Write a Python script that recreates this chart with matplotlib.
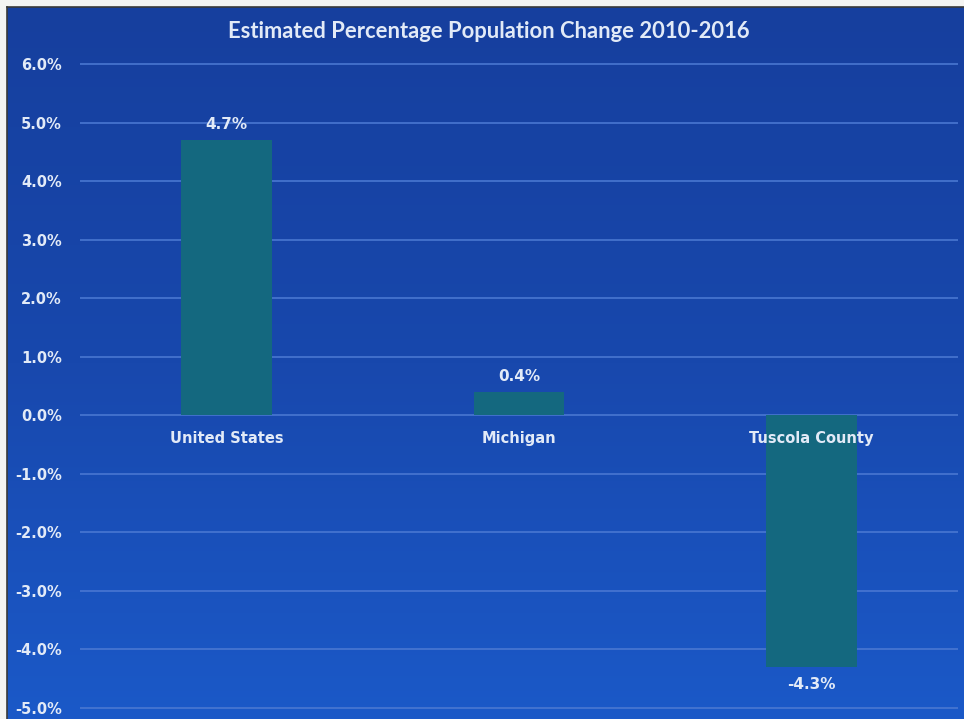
import numpy as np
import matplotlib
matplotlib.use("Agg")
import matplotlib.pyplot as plt
from matplotlib.colors import LinearSegmentedColormap

categories = ["United States", "Michigan", "Tuscola County"]
values = [4.7, 0.4, -4.3]
value_labels = ["4.7%", "0.4%", "-4.3%"]
yticks = [-5, -4, -3, -2, -1, 0, 1, 2, 3, 4, 5, 6]
ytick_labels = [f"{t:.1f}%" for t in yticks]
title = "Estimated Percentage Population Change 2010-2016"

W, H = 964, 719
fig = plt.figure(figsize=(W / 100, H / 100), dpi=100)
fig.patch.set_facecolor("#f4f4f2")

# slide background: blue panel with a gentle vertical gradient
bg = fig.add_axes([7 / W, 0, 1 - 7 / W, 1 - 7 / H])
cmap = LinearSegmentedColormap.from_list("slide", ["#1b59c8", "#1848ad", "#163f9e"])
grad = np.linspace(0, 1, 256).reshape(-1, 1)
bg.imshow(grad, aspect="auto", cmap=cmap, origin="lower", extent=[0, 1, 0, 1])
bg.set_axis_off()
bg.plot([0, 0], [0, 1], color="#3a3a3a", lw=1.2, transform=bg.transAxes, clip_on=False)
bg.plot([0, 1], [1, 1], color="#3a3a3a", lw=1.2, transform=bg.transAxes, clip_on=False)

# chart area
px_per_unit = (708 - 64) / 11
ax_left, ax_right = 80, 958
ax_top_px, ax_bot_px = 30, 719
ymax = 6 + (64 - ax_top_px) / px_per_unit
ymin = -5 - (ax_bot_px - 708) / px_per_unit
ax = fig.add_axes([ax_left / W, 0, (ax_right - ax_left) / W, (H - ax_top_px) / H])
ax.set_facecolor("none")
ax.set_xlim(-0.5, 2.5)
ax.set_ylim(ymin, ymax)

text_color = "#e2eaf7"
grid_color = "#4a78d2"

for t in yticks:
    ax.axhline(t, color=grid_color, lw=1.3, alpha=0.9, zorder=1)

x = np.arange(len(categories))
ax.bar(x, values, width=0.31, color="#14687f", zorder=2)

ax.set_yticks(yticks)
ax.set_yticklabels(ytick_labels)
ax.tick_params(axis="y", length=0, pad=13, labelcolor=text_color)
ax.set_xticks([])
for lbl in ax.get_yticklabels():
    lbl.set_fontfamily("DejaVu Sans")
    lbl.set_fontweight("bold")
    lbl.set_fontsize(10.5)
for sp in ax.spines.values():
    sp.set_visible(False)

# category names sit just below the zero line
for xi, name in zip(x, categories):
    ax.annotate(name, (xi, 0), xytext=(0, -11), textcoords="offset points",
                ha="center", va="top", color=text_color, fontsize=10.5,
                fontweight="bold", family="DejaVu Sans")

# value labels outside the bar ends
for xi, v, lab in zip(x, values, value_labels):
    off = 6 if v >= 0 else -7
    ax.annotate(lab, (xi, v), xytext=(0, off), textcoords="offset points",
                ha="center", va="bottom" if v >= 0 else "top",
                color=text_color, fontsize=11, fontweight="bold",
                family="DejaVu Sans")

fig.text(489 / W, 1 - 31 / H, title, ha="center", va="center",
         color=text_color, fontsize=15.8, fontweight="bold", family="Lato")

fig.savefig("out.png", dpi=100, facecolor=fig.get_facecolor())
